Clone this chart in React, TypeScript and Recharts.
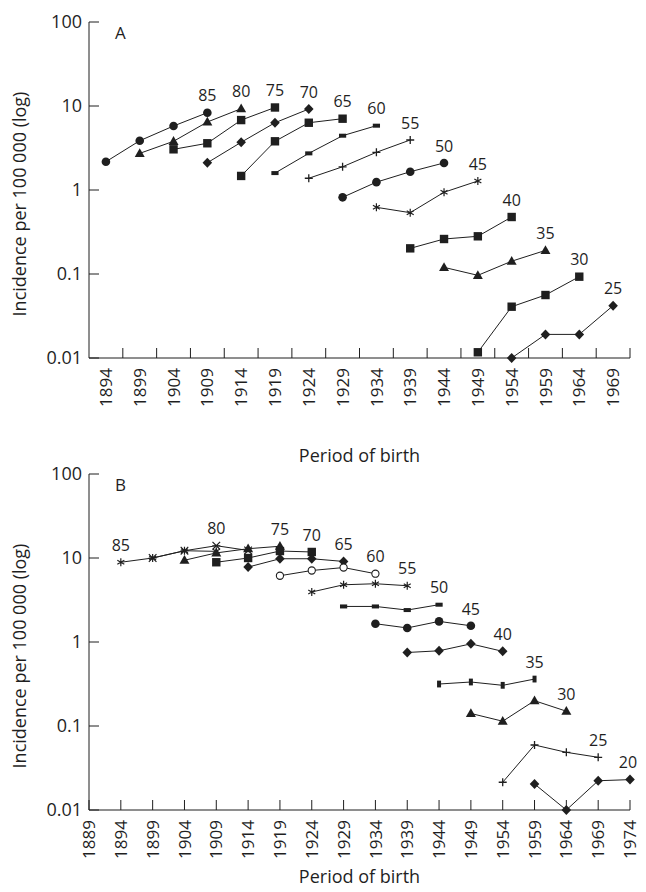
import React from 'react';
import { LineChart, Line, XAxis, YAxis } from 'recharts';

const ink = '#1f1f1f';
const font = '"Open Sans", "DejaVu Sans", sans-serif';

const yearsA = ['1894', '1899', '1904', '1909', '1914', '1919', '1924', '1929', '1934', '1939', '1944', '1949', '1954', '1959', '1964', '1969'];
const yearsB = ['1889', '1894', '1899', '1904', '1909', '1914', '1919', '1924', '1929', '1934', '1939', '1944', '1949', '1954', '1959', '1964', '1969', '1974'];
const yTicks = [0.01, 0.1, 1, 10, 100];

// panel A - four periods per age group, first period = cohort start
const a85 = [2.17, 3.86, 5.78, 8.32];
const a80 = [2.73, 3.8, 6.45, 9.29];
const a75 = [3.05, 3.6, 6.8, 9.6];
const a70 = [2.11, 3.7, 6.32, 9.2];
const a65 = [1.47, 3.8, 6.32, 7.06];
const a60 = [1.59, 2.73, 4.43, 5.83];
const a55 = [1.38, 1.89, 2.81, 3.94];
const a50 = [0.818, 1.24, 1.65, 2.1];
const a45 = [0.622, 0.537, 0.94, 1.28];
const a40 = [0.202, 0.261, 0.281, 0.477];
const a35 = [0.12, 0.0964, 0.142, 0.191];
const a30 = [0.0117, 0.0408, 0.0562, 0.0929];
const a25 = [0.01, 0.0191, 0.0191, 0.042];

// panel B
const b85 = [8.9, 10, 12.2, 12.0];
const b80 = [10, 12.2, 14.0, 12.3];
const b75 = [9.4, 11.5, 12.9, 13.8];
const b70 = [8.9, 10, 12.1, 11.8];
const b65 = [7.8, 9.8, 9.8, 9.1];
const b60 = [6.15, 7.1, 7.7, 6.5];
const b55 = [3.94, 4.8, 4.94, 4.68];
const b50 = [2.65, 2.65, 2.4, 2.78];
const b45 = [1.65, 1.47, 1.76, 1.56];
const b40 = [0.75, 0.786, 0.95, 0.774];
const b35 = [0.316, 0.334, 0.305, 0.362];
const b30 = [0.141, 0.114, 0.2, 0.15];
const b25 = [0.0214, 0.0594, 0.0486, 0.0424];
const b20 = [0.0204, 0.01, 0.0223, 0.023];

type Series = { key: string; age: number; values: number[]; shape: string; labelAt?: number; labelDx?: number };

// cohort of age group g starts at 1894 + (85 - g)
const seriesA: Series[] = [
  { key: 'a85', age: 85, values: a85, shape: 'circle' },
  { key: 'a80', age: 80, values: a80, shape: 'triangle' },
  { key: 'a75', age: 75, values: a75, shape: 'square' },
  { key: 'a70', age: 70, values: a70, shape: 'diamond' },
  { key: 'a65', age: 65, values: a65, shape: 'square' },
  { key: 'a60', age: 60, values: a60, shape: 'dash' },
  { key: 'a55', age: 55, values: a55, shape: 'plus' },
  { key: 'a50', age: 50, values: a50, shape: 'circle' },
  { key: 'a45', age: 45, values: a45, shape: 'star' },
  { key: 'a40', age: 40, values: a40, shape: 'square' },
  { key: 'a35', age: 35, values: a35, shape: 'triangle' },
  { key: 'a30', age: 30, values: a30, shape: 'square' },
  { key: 'a25', age: 25, values: a25, shape: 'diamond' },
];

const seriesB: Series[] = [
  { key: 'b85', age: 85, values: b85, shape: 'star', labelAt: 0 },
  { key: 'b80', age: 80, values: b80, shape: 'xmark', labelAt: 2 },
  { key: 'b75', age: 75, values: b75, shape: 'triangle' },
  { key: 'b70', age: 70, values: b70, shape: 'square' },
  { key: 'b65', age: 65, values: b65, shape: 'diamond' },
  { key: 'b60', age: 60, values: b60, shape: 'ocircle' },
  { key: 'b55', age: 55, values: b55, shape: 'star' },
  { key: 'b50', age: 50, values: b50, shape: 'dash' },
  { key: 'b45', age: 45, values: b45, shape: 'circle' },
  { key: 'b40', age: 40, values: b40, shape: 'diamond' },
  { key: 'b35', age: 35, values: b35, shape: 'vdash' },
  { key: 'b30', age: 30, values: b30, shape: 'triangle' },
  { key: 'b25', age: 25, values: b25, shape: 'plus' },
  { key: 'b20', age: 20, values: b20, shape: 'diamond', labelDx: -2 },
];

const startIdx = (years: string[], s: Series) => years.indexOf(String(1894 + 85 - s.age));

function buildTable(years: string[], series: Series[]) {
  return years.map((yr, i) => {
    const row: Record<string, any> = { year: yr };
    series.forEach((s) => {
      const j = i - startIdx(years, s);
      if (j >= 0 && j < s.values.length) row[s.key] = s.values[j];
    });
    return row;
  });
}

const dataA = buildTable(yearsA, seriesA);
const dataB = buildTable(yearsB, seriesB);

function Mark({ cx, cy, shape }: { cx?: number; cy?: number; shape: string }) {
  if (cx == null || cy == null || isNaN(cx) || isNaN(cy)) return <g />;
  switch (shape) {
    case 'circle':
      return <circle cx={cx} cy={cy} r={4.3} fill={ink} />;
    case 'ocircle':
      return <circle cx={cx} cy={cy} r={3.6} fill="#fff" stroke={ink} strokeWidth={1.1} />;
    case 'square':
      return <rect x={cx - 4.2} y={cy - 4.2} width={8.4} height={8.4} fill={ink} />;
    case 'triangle':
      return <path d={`M${cx},${cy - 5.2}L${cx + 5},${cy + 3.6}L${cx - 5},${cy + 3.6}Z`} fill={ink} />;
    case 'diamond':
      return <path d={`M${cx},${cy - 5}L${cx + 4.8},${cy}L${cx},${cy + 5}L${cx - 4.8},${cy}Z`} fill={ink} />;
    case 'dash':
      return <rect x={cx - 3.6} y={cy - 2} width={7.2} height={4} fill={ink} />;
    case 'vdash':
      return <rect x={cx - 2} y={cy - 3.4} width={4} height={6.8} fill={ink} />;
    case 'plus':
      return <path d={`M${cx - 4},${cy}H${cx + 4}M${cx},${cy - 4}V${cy + 4}`} stroke={ink} strokeWidth={1.3} />;
    case 'star':
      return (
        <path
          d={`M${cx},${cy - 4}V${cy + 4}M${cx - 3.5},${cy - 2}L${cx + 3.5},${cy + 2}M${cx - 3.5},${cy + 2}L${cx + 3.5},${cy - 2}`}
          stroke={ink}
          strokeWidth={1.2}
        />
      );
    case 'xmark':
      return (
        <path
          d={`M${cx - 3.8},${cy - 3.8}L${cx + 3.8},${cy + 3.8}M${cx - 3.8},${cy + 3.8}L${cx + 3.8},${cy - 3.8}M${cx - 4},${cy}H${cx + 4}`}
          stroke={ink}
          strokeWidth={1.2}
        />
      );
    default:
      return <g />;
  }
}

const fmtY = (v: number) => (v < 1 ? String(v) : String(Math.round(v)));

const YTick = (p: any) => (
  <g>
    <line x1={p.x} x2={p.x + 10} y1={p.y} y2={p.y} stroke={ink} />
    <text x={p.x - 7} y={p.y} dy="0.36em" textAnchor="end" fontSize={18} fill={ink} fontFamily={font}>
      {fmtY(p.payload.value)}
    </text>
  </g>
);

// tick marks sit between labels for panel A, on the labels for panel B
const XTick = (p: any) => {
  const shift = p.between ? p.payload.offset || 16.9 : 0;
  return (
    <g>
      <line x1={p.x + shift} x2={p.x + shift} y1={p.y} y2={p.y - 10} stroke={ink} />
      <text
        x={p.x}
        y={p.y + 10}
        dy="0.36em"
        transform={`rotate(-90 ${p.x} ${p.y + 10})`}
        textAnchor="end"
        fontSize={17}
        fill={ink}
        fontFamily={font}
      >
        {p.payload.value}
      </text>
    </g>
  );
};

function Panel({ letter, data, series, band, height, top, xTitleOffset }: any) {
  return (
    <LineChart
      width={638}
      height={height}
      data={data}
      margin={{ top, right: 16, left: 0, bottom: 0 }}
      style={{ overflow: 'visible' }}
    >
      <XAxis
        dataKey="year"
        scale={band ? 'band' : 'point'}
        interval={0}
        height={height - top - 336}
        tickLine={false}
        tickSize={0}
        tickMargin={0}
        axisLine={{ stroke: ink }}
        tick={<XTick between={band} />}
        label={(lp: any) => {
          const vb = lp.viewBox || {};
          return (
            <text
              x={vb.x + vb.width / 2}
              y={vb.y + xTitleOffset}
              dy="0.36em"
              textAnchor="middle"
              fontSize={18}
              fill={ink}
              fontFamily={font}
            >
              Period of birth
            </text>
          );
        }}
      />
      <YAxis
        scale="log"
        domain={[0.01, 100]}
        ticks={yTicks}
        interval={0}
        width={81}
        tickLine={false}
        tickSize={0}
        tickMargin={0}
        axisLine={{ stroke: ink }}
        tick={<YTick />}
        label={(lp: any) => {
          const vb = lp.viewBox || {};
          const cy = vb.y + vb.height / 2 + 14;
          return (
            <g>
              <text
                x={vb.x + 12}
                y={cy}
                dy="0.36em"
                transform={`rotate(-90 ${vb.x + 12} ${cy})`}
                textAnchor="middle"
                fontSize={18}
                fill={ink}
                fontFamily={font}
              >
                Incidence per 100 000 (log)
              </text>
              <text x={vb.x + vb.width + 26} y={vb.y + 11} dy="0.36em" fontSize={17} fill={ink} fontFamily={font}>
                {letter}
              </text>
            </g>
          );
        }}
      />
      {series.map((s: Series) => {
        const labelRow = startIdx(band ? yearsA : yearsB, s) + (s.labelAt ?? s.values.length - 1);
        return (
          <Line
            key={s.key}
            dataKey={s.key}
            stroke={ink}
            strokeWidth={1}
            isAnimationActive={false}
            activeDot={false}
            dot={(dp: any) => <Mark key={`${s.key}-${dp.index}`} cx={dp.cx} cy={dp.cy} shape={s.shape} />}
            label={(lp: any) =>
              lp.index === labelRow ? (
                <text
                  key={`${s.key}-l`}
                  x={lp.x + (s.labelDx || 0)}
                  y={lp.y - 17}
                  dy="0.36em"
                  textAnchor="middle"
                  fontSize={16}
                  fill={ink}
                  fontFamily={font}
                >
                  {s.age}
                </text>
              ) : (
                <g key={`${s.key}-l${lp.index}`} />
              )
            }
          />
        );
      })}
    </LineChart>
  );
}

export default function App() {
  return (
    <div style={{ position: 'relative', width: 638, height: 884, marginBottom: -8, fontFamily: font }}>
      <div style={{ position: 'absolute', left: 0, top: 0 }}>
        <Panel letter="A" data={dataA} series={seriesA} band height={470} top={14} xTitleOffset={98} />
      </div>
      <div style={{ position: 'absolute', left: 0, top: 450 }}>
        <Panel letter="B" data={dataB} series={seriesB} band={false} height={434} top={16} xTitleOffset={67} />
      </div>
    </div>
  );
}
